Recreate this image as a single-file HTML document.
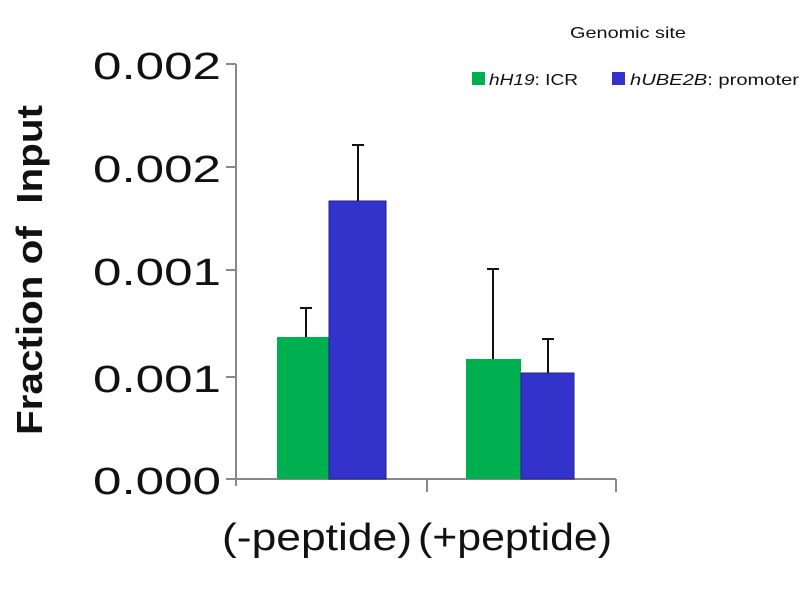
<!DOCTYPE html>
<html><head><meta charset="utf-8"><style>
body{margin:0;background:#fff;}
svg{display:block;font-family:"Liberation Sans",sans-serif;}
</style></head><body>
<svg width="800" height="600" viewBox="0 0 800 600">
<g stroke="#888" stroke-width="2" fill="none">
<line x1="236" y1="64" x2="236" y2="486"/>
<line x1="226" y1="479" x2="616" y2="479"/>
<line x1="226" y1="64" x2="236" y2="64"/>
<line x1="226" y1="167" x2="236" y2="167"/>
<line x1="226" y1="270" x2="236" y2="270"/>
<line x1="226" y1="377" x2="236" y2="377"/>
<line x1="427" y1="479" x2="427" y2="492"/>
<line x1="616" y1="479" x2="616" y2="492"/>
</g>
<rect x="277" y="337" width="52" height="142" fill="#00b050"/>
<rect x="329" y="201" width="57" height="278" fill="#3333cc" stroke="#22228a" stroke-width="1"/>
<rect x="466" y="359" width="55" height="120" fill="#00b050"/>
<rect x="521" y="373" width="53" height="106" fill="#3333cc" stroke="#22228a" stroke-width="1"/>
<g stroke="#111" stroke-width="2">
<line x1="306" y1="337" x2="306" y2="308"/><line x1="300" y1="308" x2="312" y2="308"/>
<line x1="358" y1="201" x2="358" y2="145"/><line x1="352" y1="145" x2="364" y2="145"/>
<line x1="493" y1="359" x2="493" y2="269"/><line x1="487" y1="269" x2="499" y2="269"/>
<line x1="548" y1="373" x2="548" y2="339"/><line x1="542" y1="339" x2="554" y2="339"/>
</g>
<g font-size="38" fill="#111">
<text x="93" y="79" textLength="128" lengthAdjust="spacingAndGlyphs">0.002</text>
<text x="93" y="182" textLength="128" lengthAdjust="spacingAndGlyphs">0.002</text>
<text x="93" y="285" textLength="128" lengthAdjust="spacingAndGlyphs">0.001</text>
<text x="93" y="392" textLength="128" lengthAdjust="spacingAndGlyphs">0.001</text>
<text x="93" y="494" textLength="128" lengthAdjust="spacingAndGlyphs">0.000</text>
</g>
<text x="42" y="270" font-size="36" font-weight="bold" fill="#111" text-anchor="middle" transform="rotate(-90 42 270)" textLength="330" lengthAdjust="spacingAndGlyphs">Fraction of&#160; Input</text>
<text x="222" y="550" font-size="38" fill="#111" textLength="190" lengthAdjust="spacingAndGlyphs">(-peptide)</text>
<text x="418" y="550" font-size="38" fill="#111" textLength="194" lengthAdjust="spacingAndGlyphs">(+peptide)</text>
<text x="570" y="38" font-size="16" fill="#111" textLength="116" lengthAdjust="spacingAndGlyphs">Genomic site</text>
<rect x="472" y="72" width="13" height="13" fill="#00b050"/>
<text x="489" y="85" font-size="16" fill="#111" textLength="89" lengthAdjust="spacingAndGlyphs"><tspan font-style="italic">hH19</tspan>: ICR</text>
<rect x="612" y="72" width="13" height="13" fill="#3333cc"/>
<text x="630" y="85" font-size="16" fill="#111" textLength="169" lengthAdjust="spacingAndGlyphs"><tspan font-style="italic">hUBE2B</tspan>: promoter</text>
</svg>
</body></html>
